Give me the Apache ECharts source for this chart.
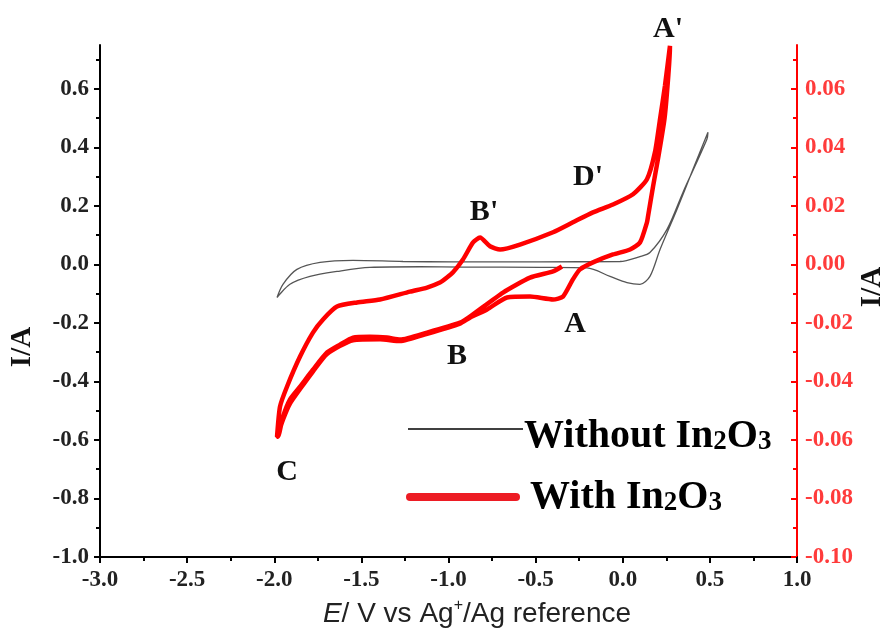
<!DOCTYPE html>
<html>
<head>
<meta charset="utf-8">
<script src="https://cdn.jsdelivr.net/npm/echarts@6/dist/echarts.min.js"></script>
<style>html,body{margin:0;padding:0;background:#fff;}#c{width:890px;height:635px;}</style>
</head>
<body>
<div id="c"></div>
<script>
// ---- data ----
// Without In2O3 (left axis, A)
const blackE = [0.489,0.403,0.311,0.214,0.156,0.099,0.024,-0.073,-0.205,-0.475,-0.917,-1.164,-1.451,-1.640,-1.795,-1.910,-1.984,-1.950,-1.870,-1.737,-1.548,-1.261,-0.974,-0.475,-0.016,0.099,0.156,0.254,0.346,0.483,0.489];
const blackI = [0.452,0.325,0.188,0.051,-0.041,-0.068,-0.062,-0.041,-0.012,-0.010,-0.009,-0.008,-0.010,-0.024,-0.041,-0.068,-0.113,-0.068,-0.017,0.007,0.014,0.010,0.009,0.009,0.010,0.027,0.041,0.120,0.247,0.428,0.452];
// With In2O3 (right axis, A)
const redE = [-0.349,-0.400,-0.532,-0.687,-0.877,-0.934,-1.123,-1.278,-1.353,-1.451,-1.548,-1.623,-1.697,-1.778,-1.852,-1.910,-1.950,-1.979,
  -1.984,-1.967,-1.927,-1.852,-1.778,-1.720,-1.640,-1.525,-1.393,-1.221,-1.123,-1.049,-1.009,-0.974,-0.917,-0.859,-0.819,-0.762,-0.704,-0.590,-0.400,-0.286,-0.171,-0.056,0.059,0.139,0.185,0.214,0.242,0.271,
  0.262,0.240,0.202,0.174,0.145,0.139,0.099,0.042,-0.056,-0.171,-0.245,-0.286,-0.343,-0.400,-0.532,-0.664,-0.779,-0.877,-0.934,-1.123,-1.278,-1.393,-1.548,-1.697,-1.778,-1.852,-1.910,-1.950,-1.984];
const redI = [-0.0007,-0.0024,-0.0045,-0.0096,-0.0178,-0.0199,-0.0233,-0.0257,-0.0250,-0.0247,-0.0250,-0.0274,-0.0301,-0.0360,-0.0418,-0.0462,-0.0521,-0.0589,
  -0.0589,-0.0486,-0.0418,-0.0315,-0.0233,-0.0188,-0.0144,-0.0130,-0.0120,-0.0093,-0.0079,-0.0062,-0.0045,-0.0027,0.0017,0.0075,0.0092,0.0062,0.0051,0.0068,0.0110,0.0144,0.0178,0.0205,0.0240,0.0291,0.0384,0.0497,0.0610,0.0747,
  0.0650,0.0500,0.0360,0.0267,0.0164,0.0144,0.0075,0.0051,0.0034,0.0007,-0.0017,-0.0051,-0.0110,-0.0120,-0.0110,-0.0113,-0.0154,-0.0182,-0.0202,-0.0237,-0.0262,-0.0256,-0.0259,-0.0306,-0.0366,-0.0426,-0.0476,-0.0531,-0.0592];
// axis ticks
const leftTicks = [-1.0,-0.8,-0.6,-0.4,-0.2,0.0,0.2,0.4,0.6];
const leftMinor = [-0.9,-0.7,-0.5,-0.3,-0.1,0.1,0.3,0.5,0.7];
const rightTicks = [-0.10,-0.08,-0.06,-0.04,-0.02,0.00,0.02,0.04,0.06];
const rightMinor = [-0.09,-0.07,-0.05,-0.03,-0.01,0.01,0.03,0.05,0.07];
// peak labels (position in E / left-axis I)
const noteText = ["A'","D'","B'","A","B","C"];
const noteE = [0.260,-0.199,-0.796,-0.274,-0.951,-1.927];
const noteI = [0.805,0.298,0.178,-0.205,-0.315,-0.709];

const chart = echarts.init(document.getElementById('c'));
const serif = '"Liberation Serif","Times New Roman",serif';
const tickLabel = {fontFamily: serif, fontWeight: 'bold', fontSize: 23, color: '#222'};

function pairs(xs, ys){ return xs.map((x,i)=>[x, ys[i]]); }

chart.setOption({
  animation: false,
  backgroundColor: '#fff',
  grid: {left: 100, right: 93, top: 45, bottom: 78, containLabel: false},
  xAxis: {
    type: 'value', min: -3, max: 1, interval: 0.5,
    axisLine: {onZero: false, lineStyle: {color: '#000', width: 2}},
    axisTick: {show: true, inside: false, length: 6, lineStyle: {color: '#000', width: 2}},
    minorTick: {show: true, splitNumber: 2, length: 4, lineStyle: {color: '#000', width: 2}},
    splitLine: {show: false},
    axisLabel: Object.assign({margin: 12, formatter: v => v.toFixed(1)}, tickLabel)
  },
  yAxis: [
    {
      type: 'value', min: -1, max: 0.75, position: 'left',
      axisLine: {show: true, onZero: false, lineStyle: {color: '#000', width: 2}},
      axisTick: {show: true, inside: false, length: 6, customValues: leftTicks, lineStyle: {color: '#000', width: 2}},
      splitLine: {show: false},
      axisLabel: Object.assign({margin: 11, customValues: leftTicks, formatter: v => v.toFixed(1)}, tickLabel)
    },
    {
      type: 'value', min: -0.1, max: 0.075, position: 'right',
      axisLine: {show: true, onZero: false, lineStyle: {color: '#ff0000', width: 2}},
      axisTick: {show: true, inside: true, length: 6, customValues: rightTicks, lineStyle: {color: '#ff0000', width: 2}},
      splitLine: {show: false},
      axisLabel: Object.assign({}, tickLabel, {margin: 8, color: '#ff3b3b', customValues: rightTicks, formatter: v => v.toFixed(2)})
    },
    {
      type: 'value', min: -1, max: 0.75, position: 'left',
      axisLine: {show: false, onZero: false},
      axisTick: {show: true, inside: false, length: 4, customValues: leftMinor, lineStyle: {color: '#000', width: 2}},
      splitLine: {show: false},
      axisLabel: {show: false}
    },
    {
      type: 'value', min: -0.1, max: 0.075, position: 'right',
      axisLine: {show: false, onZero: false},
      axisTick: {show: true, inside: true, length: 4, customValues: rightMinor, lineStyle: {color: '#ff0000', width: 2}},
      splitLine: {show: false},
      axisLabel: {show: false}
    }
  ],
  series: [
    {
      name: 'Without In2O3', type: 'line', yAxisIndex: 0, showSymbol: false, smooth: 0.3,
      data: pairs(blackE, blackI),
      lineStyle: {color: '#555', width: 1.3}, clip: false, z: 2
    },
    {
      name: 'With In2O3', type: 'line', yAxisIndex: 1, showSymbol: false, smooth: 0.2,
      data: pairs(redE, redI),
      lineStyle: {color: '#ff0000', width: 4.5}, clip: false, z: 3
    }
  ]
});

const g = [];
// peak labels
noteText.forEach((t, i) => {
  const p = chart.convertToPixel({xAxisIndex: 0, yAxisIndex: 0}, [noteE[i], noteI[i]]);
  g.push({type: 'text', x: p[0], y: p[1], z: 10,
    style: {text: t, font: 'bold 30px ' + serif, fill: '#111', textAlign: 'center', textVerticalAlign: 'middle'}});
});
// axis titles
g.push({type: 'text', x: 23, y: 347, rotation: Math.PI / 2, z: 10,
  style: {text: 'I/A', font: 'bold 29px ' + serif, fill: '#111', textAlign: 'center', textVerticalAlign: 'middle'}});
g.push({type: 'text', x: 873, y: 287, rotation: Math.PI / 2, z: 10,
  style: {text: 'I/A', font: 'bold 29px ' + serif, fill: '#111', textAlign: 'center', textVerticalAlign: 'middle'}});
g.push({type: 'text', x: 477, y: 613, z: 10,
  style: {text: '{i|E}{n|/ V vs Ag}{s|+}{n|/Ag reference}', textAlign: 'center', textVerticalAlign: 'middle',
    rich: {
      i: {fontFamily: '"Liberation Sans",Arial,sans-serif', fontStyle: 'italic', fontSize: 28, fill: '#222', verticalAlign: 'bottom'},
      n: {fontFamily: '"Liberation Sans",Arial,sans-serif', fontSize: 28, fill: '#222', verticalAlign: 'bottom'},
      s: {fontFamily: '"Liberation Sans",Arial,sans-serif', fontSize: 16, fill: '#222', verticalAlign: 'bottom', padding: [0, 0, 14, 0]}
    }}});
// legend
g.push({type: 'line', z: 10, shape: {x1: 408, y1: 429, x2: 523, y2: 429}, style: {stroke: '#000', lineWidth: 1.5}});
g.push({type: 'line', z: 10, shape: {x1: 410, y1: 497, x2: 516, y2: 497}, style: {stroke: '#ed1c24', lineWidth: 8, lineCap: 'round'}});
const legRich = {
  m: {fontFamily: serif, fontWeight: 'bold', fontSize: 40, fill: '#000', verticalAlign: 'bottom'},
  b: {fontFamily: serif, fontWeight: 'bold', fontSize: 27, fill: '#000', verticalAlign: 'bottom', padding: [0, 0, 1, 0]}
};
g.push({type: 'text', x: 524, y: 437, z: 10,
  style: {text: '{m|Without In}{b|2}{m|O}{b|3}', textAlign: 'left', textVerticalAlign: 'middle', rich: legRich}});
g.push({type: 'text', x: 530, y: 498, z: 10,
  style: {text: '{m|With In}{b|2}{m|O}{b|3}', textAlign: 'left', textVerticalAlign: 'middle', rich: legRich}});

chart.setOption({graphic: g});
</script>
</body>
</html>
